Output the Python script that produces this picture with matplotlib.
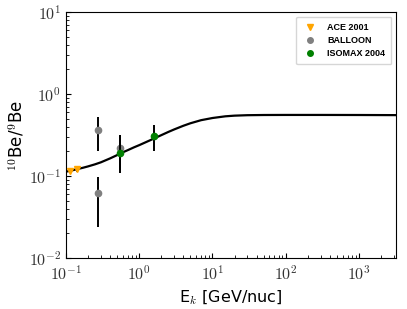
import matplotlib
matplotlib.use("Agg")
import matplotlib.pyplot as plt
from matplotlib.ticker import FuncFormatter
from matplotlib.lines import Line2D
import math

plt.rcParams['mathtext.fontset'] = 'cm'

# Model curve
curve_E = [0.1, 0.12, 0.14, 0.17, 0.2, 0.25, 0.3, 0.4, 0.5, 0.6, 0.7, 0.85, 1.0, 1.2, 1.5, 2.0,
           2.5, 3.0, 4.0, 5.0, 7.0, 10.0, 15.0, 20.0, 30.0, 50.0, 100.0, 300.0, 1000.0, 3200.0]
curve_R = [0.113, 0.117, 0.121, 0.126, 0.131, 0.139, 0.147, 0.164, 0.18, 0.195, 0.207, 0.224, 0.238,
           0.256, 0.28, 0.315, 0.345, 0.37, 0.41, 0.44, 0.48, 0.51, 0.535, 0.545, 0.552, 0.555,
           0.556, 0.556, 0.555, 0.553]

# ACE 2001
ace_E = [0.115, 0.14]
ace_R = [0.116, 0.121]
ace_lo = [0.008, 0.008]
ace_hi = [0.008, 0.008]

# BALLOON
bal_E = [0.27, 0.27, 0.54]
bal_R = [0.364, 0.0615, 0.218]
bal_lo = [0.16, 0.0375, 0.10]
bal_hi = [0.16, 0.037, 0.10]

# ISOMAX 2004
iso_E = [0.54, 1.6]
iso_R = [0.19, 0.31]
iso_lo = [0.08, 0.11]
iso_hi = [0.13, 0.115]

fig = plt.figure(figsize=(4.07, 3.09), dpi=100)
ax = fig.add_axes([0.162, 0.165, 0.811, 0.796])

ax.plot(curve_E, curve_R, color='black', lw=1.6, zorder=2)

ax.errorbar(ace_E, ace_R, yerr=[ace_lo, ace_hi], fmt='v', color='orange', ecolor='black',
            elinewidth=1.4, ms=5, capsize=0, zorder=3)
ax.errorbar(bal_E, bal_R, yerr=[bal_lo, bal_hi], fmt='o', color='gray', ecolor='black',
            elinewidth=1.4, ms=4.5, capsize=0, zorder=3)
ax.errorbar(iso_E, iso_R, yerr=[iso_lo, iso_hi], fmt='o', color='green', ecolor='black',
            elinewidth=1.4, ms=4.5, capsize=0, zorder=4)

ax.set_xscale('log')
ax.set_yscale('log')
ax.set_xlim(0.1, 3200)
ax.set_ylim(1e-2, 10)
ax.tick_params(which='both', direction='in', top=False, right=False, labelsize=11.5,
               labelcolor='#333333')
ax.tick_params(axis='x', pad=4.5)
ax.set_xticks([0.1, 1, 10, 100, 1000])
ax.set_yticks([0.01, 0.1, 1, 10])
fmt = FuncFormatter(lambda v, p: r'$10^{%d}$' % round(math.log10(v)))
ax.xaxis.set_major_formatter(fmt)
ax.yaxis.set_major_formatter(fmt)

ax.set_xlabel(r'E$_k$ [GeV/nuc]', fontsize=11.5)
ax.set_ylabel(r'$^{10}$Be/$^{9}$Be', fontsize=12)
ax.yaxis.set_label_coords(-0.12, 0.5)

handles = [
    Line2D([], [], ls='none', marker='v', color='orange', ms=5),
    Line2D([], [], ls='none', marker='o', color='gray', ms=4),
    Line2D([], [], ls='none', marker='o', color='green', ms=4),
]
labels = ['ACE 2001', 'BALLOON', 'ISOMAX 2004']
ax.legend(handles, labels, loc='upper right',
          prop={'family': 'Liberation Sans', 'weight': 'bold', 'size': 6.5},
          handletextpad=1.2, borderpad=0.7, labelspacing=0.45, handlelength=1.5)

fig.savefig('out.png', dpi=100)
